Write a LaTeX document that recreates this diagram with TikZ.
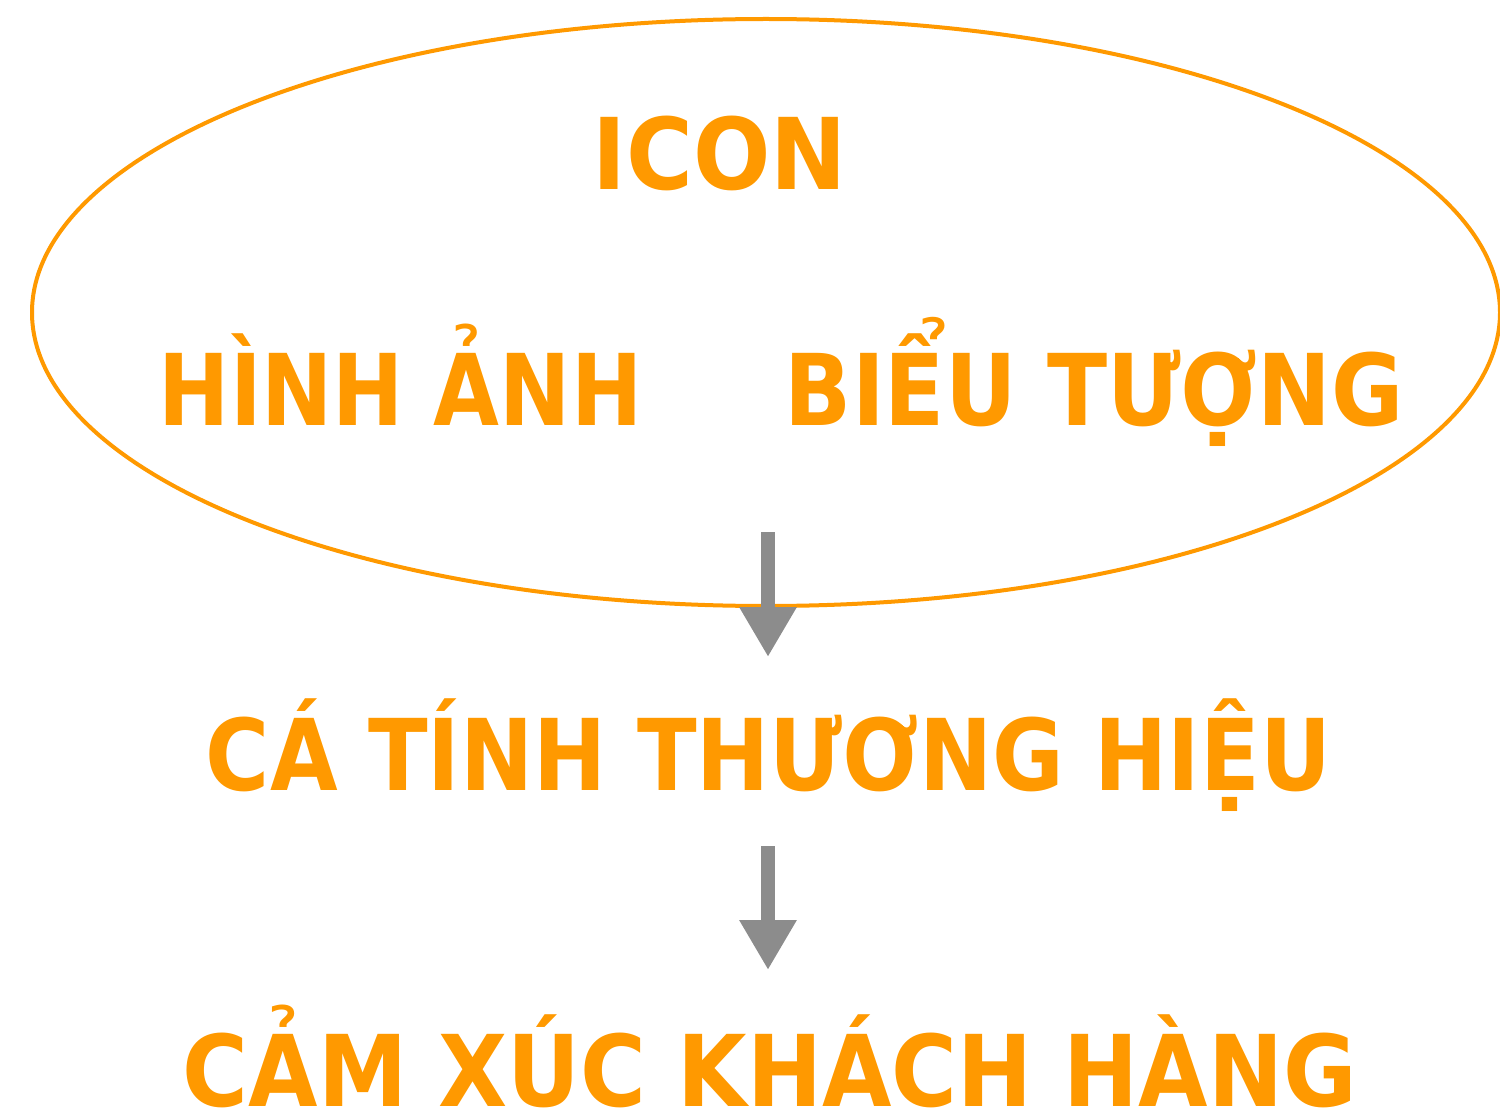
\documentclass[tikz,border=0pt]{standalone}
\usepackage{fontspec}
\setmainfont{DejaVu Sans}
\usetikzlibrary{arrows.meta,shapes.geometric}
\definecolor{brandorange}{HTML}{FF9900}
\definecolor{arrowgray}{HTML}{8C8C8C}
\tikzset{
  lbl/.style={text=brandorange, font=\fontsize{99}{110}\selectfont\bfseries, inner sep=0pt, anchor=base},
  flow/.style={draw=arrowgray, line width=14pt, -{Triangle[length=50pt,width=54pt]}},
}
\begin{document}
\begin{tikzpicture}[x=1pt,y=-1pt]
\useasboundingbox (0,0) rectangle (1500,1115);
\node[draw=brandorange, line width=4pt, ellipse, minimum width=1468pt, minimum height=587pt, inner sep=0pt] (oval) at (766,312.5) {};
\node[lbl, xscale=0.92] (icon) at (720,190) {ICON};
\node[lbl, xscale=0.86] (hinhanh) at (400.5,425) {HÌNH ẢNH};
\node[lbl, xscale=0.89] (bieutuong) at (1094.5,425) {BIỂU TƯỢNG};
\node[lbl, xscale=0.883] (cati) at (768.5,790) {CÁ TÍNH THƯƠNG HIỆU};
\node[lbl, xscale=0.906] (camxuc) at (770,1106) {CẢM XÚC KHÁCH HÀNG};
\coordinate (a1s) at (768,532);
\coordinate (a1e) at (768,657);
\coordinate (a2s) at (768,846);
\coordinate (a2e) at (768,970);
\draw[flow] (a1s) -- (a1e);
\draw[flow] (a2s) -- (a2e);
\end{tikzpicture}
\end{document}
